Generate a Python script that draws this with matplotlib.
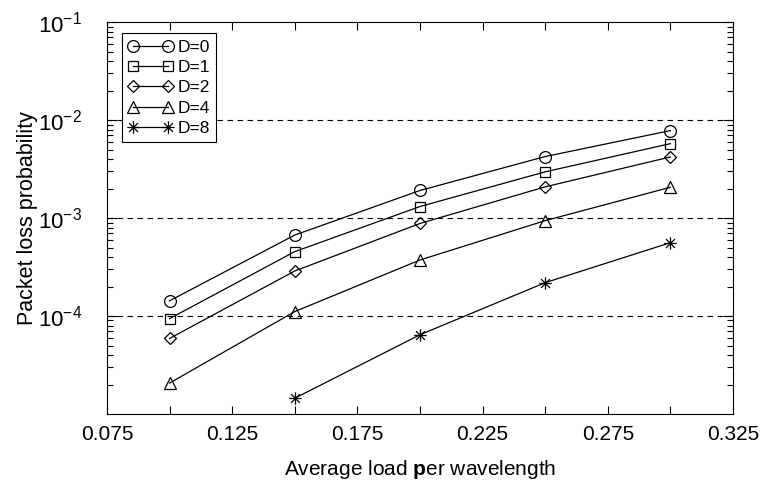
import numpy as np
import matplotlib
matplotlib.use("Agg")
import matplotlib.pyplot as plt
from matplotlib.path import Path
from matplotlib.ticker import FixedLocator, FixedFormatter, LogLocator, NullFormatter

plt.rcParams['font.family'] = ['Liberation Sans', 'DejaVu Sans']
plt.rcParams['mathtext.fontset'] = 'custom'
plt.rcParams['mathtext.rm'] = 'Liberation Sans'
plt.rcParams['mathtext.bf'] = 'Liberation Sans:bold'
plt.rcParams['mathtext.it'] = 'Liberation Sans:italic'

load = [0.10, 0.15, 0.20, 0.25, 0.30]
d0 = [1.43e-4, 6.7e-4, 1.91e-3, 4.24e-3, 7.8e-3]
d1 = [9.4e-5, 4.54e-4, 1.31e-3, 2.96e-3, 5.74e-3]
d2 = [5.9e-5, 2.88e-4, 8.8e-4, 2.08e-3, 4.2e-3]
d4 = [2.07e-5, 1.11e-4, 3.73e-4, 9.4e-4, 2.06e-3]
load8 = [0.15, 0.20, 0.25, 0.30]
d8 = [1.45e-5, 6.44e-5, 2.19e-4, 5.6e-4]
labels = ['D=0', 'D=1', 'D=2', 'D=4', 'D=8']
xtick_vals = [0.075, 0.125, 0.175, 0.225, 0.275, 0.325]
xtick_labels = ['0.075', '0.125', '0.175', '0.225', '0.275', '0.325']

# asterisk marker (MATLAB style)
ang = np.deg2rad([0, 45, 90, 135])
verts, codes = [], []
for a in ang:
    verts += [(-np.cos(a), -np.sin(a)), (np.cos(a), np.sin(a))]
    codes += [Path.MOVETO, Path.LINETO]
asterisk = Path(verts, codes)

fig = plt.figure(figsize=(7.64, 4.84), dpi=100)
ax = fig.add_axes([0.140, 0.1446, 0.8194, 0.8099])

series = [(load, d0, 'o', 8.5), (load, d1, 's', 6.5), (load, d2, 'D', 6.0),
          (load, d4, '^', 8.5), (load8, d8, asterisk, 9)]
for (xs, ys, m, ms), lab in zip(series, labels):
    ax.plot(xs, ys, color='black', lw=0.9, marker=m, markersize=ms,
            markerfacecolor='none', markeredgecolor='black', markeredgewidth=0.9,
            label=lab)

ax.set_yscale('log')
ax.set_xlim(0.075, 0.325)
ax.set_ylim(1e-5, 1e-1)

ax.xaxis.set_major_locator(FixedLocator(xtick_vals))
ax.xaxis.set_major_formatter(FixedFormatter(xtick_labels))
ax.xaxis.set_minor_locator(FixedLocator([0.1, 0.15, 0.2, 0.25, 0.3]))
ax.yaxis.set_major_locator(FixedLocator([1e-4, 1e-3, 1e-2, 1e-1]))
ax.yaxis.set_major_formatter(FixedFormatter([r'$10^{-4}$', r'$10^{-3}$', r'$10^{-2}$', r'$10^{-1}$']))
ax.yaxis.set_minor_locator(LogLocator(base=10, subs=np.arange(2, 10), numticks=20))
ax.yaxis.set_minor_formatter(NullFormatter())

ax.tick_params(which='both', direction='in', top=True, right=True, width=0.8)
ax.tick_params(axis='x', which='both', length=6, labelsize=15, pad=8)
ax.tick_params(axis='y', which='major', length=7, labelsize=16, pad=18)
ax.tick_params(axis='y', which='minor', length=4)

for y in [1e-4, 1e-3, 1e-2]:
    ax.axhline(y, color='black', lw=0.8, ls=(0, (5, 4)), zorder=0.5)

for s in ax.spines.values():
    s.set_linewidth(0.8)

ax.set_xlabel(r'Average load $\mathbf{p}$er wavelength', fontsize=15, labelpad=10)
ax.set_ylabel('Packet loss probability', fontsize=15.5, labelpad=0)

leg = ax.legend(loc='upper left', numpoints=2, fontsize=12.5, frameon=True,
                fancybox=False, edgecolor='black', framealpha=1,
                handlelength=2.6, handletextpad=0.25, labelspacing=0.3,
                borderpad=0.35, borderaxespad=0.0, bbox_to_anchor=(0.024, 0.971))
leg.get_frame().set_linewidth(0.8)

fig.savefig('out.png', dpi=100)
